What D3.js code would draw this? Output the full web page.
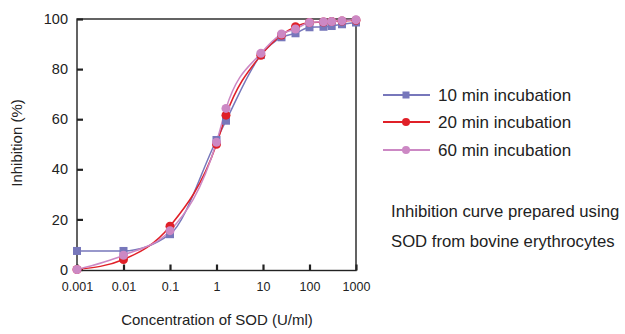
<!DOCTYPE html>
<html><head><meta charset="utf-8">
<script src="https://cdn.jsdelivr.net/npm/d3@7"></script>
<style>
html,body{margin:0;padding:0;background:#fff;}
text{font-family:"Liberation Sans",Arial,sans-serif;fill:#222;}
</style></head>
<body><svg id="c" width="625" height="334"></svg>
<script>
// concentrations (U/ml)
const conc = [0.001, 0.01, 0.1, 1, 1.6, 9, 25, 50, 100, 200, 300, 500, 1000];
const min10 = [7.4, 7.4, 14.1, 51.7, 59.4, 85.6, 92.7, 94.3, 96.7, 96.9, 97.2, 97.9, 98.6];
const min20 = [0, 4.0, 17.3, 50.0, 61.6, 85.5, 93.6, 96.9, 98.6, 98.8, 99.0, 99.2, 99.5];
const min60 = [0, 5.7, 15.5, 50.8, 64.3, 86.3, 94.0, 96.0, 98.6, 98.9, 99.0, 99.3, 99.7];
const seriesNames = ["10 min incubation", "20 min incubation", "60 min incubation"];
const xTicks = [0.001, 0.01, 0.1, 1, 10, 100, 1000];
const xTickLabels = ["0.001", "0.01", "0.1", "1", "10", "100", "1000"];
const yTicks = [0, 20, 40, 60, 80, 100];
const noteLines = ["Inhibition curve prepared using", "SOD from bovine erythrocytes"];

const colors = ["#7777bb", "#e02028", "#cc88c4"];
const svg = d3.select("#c");
const L = 77, R = 356, T = 19, B = 269.5;
const x = d3.scaleLog().domain([0.001, 1000]).range([L, R]);
const y = d3.scaleLinear().domain([0, 100]).range([B, T]);

// frame
svg.append("rect").attr("x", L).attr("y", T).attr("width", R - L).attr("height", B - T + 1)
  .attr("fill", "none").attr("stroke", "#222").attr("stroke-width", 1.4);

// x ticks (inside)
const xAxis = d3.axisBottom(x).tickValues(xTicks).tickSize(-6).tickPadding(12)
  .tickFormat((d, i) => xTickLabels[i]);
const gx = svg.append("g").attr("transform", `translate(0,${B + 1})`).call(xAxis);
gx.select(".domain").remove();
gx.selectAll(".tick line").attr("stroke", "#222").attr("stroke-width", 2.2);
gx.selectAll(".tick text").attr("font-size", 12.5).attr("fill", "#222");

const yAxis = d3.axisLeft(y).tickValues(yTicks).tickSize(-6).tickPadding(9);
const gy = svg.append("g").attr("transform", `translate(${L},0)`).call(yAxis);
gy.select(".domain").remove();
gy.selectAll(".tick line").attr("stroke", "#222").attr("stroke-width", 2.2);
gy.selectAll(".tick text").attr("font-size", 14.5).attr("fill", "#222");

// axis titles
svg.append("text").attr("x", 217).attr("y", 325).attr("text-anchor", "middle")
  .attr("font-size", 15).text("Concentration of SOD (U/ml)");
svg.append("text").attr("transform", "translate(22,143) rotate(-90)").attr("text-anchor", "middle")
  .attr("font-size", 15).text("Inhibition (%)");

const all = [min10, min20, min60];
const line = d3.line().x(d => x(d[0])).y(d => y(d[1])).curve(d3.curveMonotoneX);

all.forEach((vals, i) => {
  const pts = conc.map((c, j) => [c, vals[j]]);
  svg.append("path").datum(pts).attr("d", line).attr("fill", "none")
    .attr("stroke", colors[i]).attr("stroke-width", 1.5);
});
all.forEach((vals, i) => {
  const pts = conc.map((c, j) => [c, vals[j]]);
  const g = svg.append("g");
  if (i === 0) {
    g.selectAll("rect").data(pts).join("rect")
      .attr("x", d => x(d[0]) - 4).attr("y", d => y(d[1]) - 4)
      .attr("width", 8).attr("height", 8).attr("fill", colors[i]);
  } else {
    g.selectAll("circle").data(pts).join("circle")
      .attr("cx", d => x(d[0])).attr("cy", d => y(d[1])).attr("r", 4.5).attr("fill", colors[i]);
  }
});

// legend
const legY = [95, 122, 150];
seriesNames.forEach((name, i) => {
  const g = svg.append("g");
  g.append("line").attr("x1", 383).attr("x2", 430).attr("y1", legY[i]).attr("y2", legY[i])
    .attr("stroke", colors[i]).attr("stroke-width", 2.2);
  if (i === 0) g.append("rect").attr("x", 402.5).attr("y", legY[i] - 3.5).attr("width", 7).attr("height", 7).attr("fill", colors[i]);
  else g.append("circle").attr("cx", 406).attr("cy", legY[i]).attr("r", 4).attr("fill", colors[i]);
  g.append("text").attr("x", 438).attr("y", legY[i] + 6).attr("font-size", 17).text(name);
});

noteLines.forEach((t, i) => {
  svg.append("text").attr("x", 391).attr("y", 217 + i * 30).attr("font-size", 16.7).text(t);
});
</script></body></html>
